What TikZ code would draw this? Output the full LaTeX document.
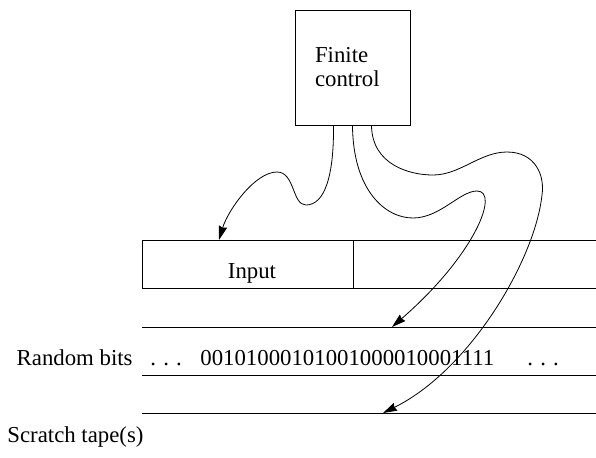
\documentclass[tikz,border=0pt]{standalone}
\usepackage{fontspec}
\setmainfont{Liberation Serif}
\usetikzlibrary{positioning,calc,arrows.meta}

\newcommand{\tapedots}{.\hspace{3.6pt}.\hspace{3.6pt}.}

\begin{document}
\begin{tikzpicture}[
			x=0.5pt, y=-0.5pt,
			every node/.style={font=\fontsize{11.4}{12}\selectfont},
			ctrlbox/.style={rectangle, draw, minimum width=57.5pt, minimum height=57.5pt, inner sep=0pt, text width=37.5pt, align=left},
			tape/.style={draw, line width=0.5pt},
			lbl/.style={inner sep=0pt, anchor=base west},
			arr/.style={-{Stealth[length=7pt, width=4.2pt, inset=0.6pt]}, line width=0.4pt},
		]
		\useasboundingbox (0,0) rectangle (596,457);

		\node[ctrlbox] (fc) at (352.5,67.5) {Finite\\control};

		% input tape, open to the right
		\draw[tape] (596,240) -- (142,240) -- (142,288) -- (596,288);
		\draw[tape] (353,240) -- (353,288);
		\node[inner sep=0pt, anchor=base] (input) at (252,278) {Input};

		% random bits tape
		\draw[tape] (142,327) -- (596,327);
		\draw[tape] (142,375) -- (596,375);
		\node[lbl, anchor=base east] (rb) at (133,365) {Random bits};
		\node[lbl] (dotsl) at (150,365) {\tapedots};
		\node[lbl] (bits) at (200,365) {00101000101001000010001111};
		\node[lbl] (dotsr) at (527,365) {\tapedots};

		% scratch tape
		\draw[tape] (142,413) -- (596,413);
		\node[lbl] (scratch) at (7,442) {Scratch tape(s)};

		% heads
		\coordinate (inhead) at (219,240);
		\coordinate (rbhead) at (392,327);
		\coordinate (sthead) at (383,413);

		\draw[arr] ($(fc.south)+(-19,0)$) .. controls (334,175) and (325,205) .. (306,205)
			.. controls (292,205) and (295,172) .. (277,172)
			.. controls (255,172) and (228,210) .. (inhead);
		\draw[arr] (fc.south) .. controls (353,190) and (385,218) .. (413,218)
			.. controls (440,218) and (460,191) .. (477,191)
			.. controls (500,191) and (475,255) .. (rbhead);
		\draw[arr] ($(fc.south)+(19,0)$) .. controls (372,165) and (410,175) .. (433,175)
			.. controls (460,175) and (480,152) .. (507,152)
			.. controls (535,152) and (545,175) .. (542,195)
			.. controls (535,260) and (470,370) .. (sthead);

	\end{tikzpicture}
\end{document}
